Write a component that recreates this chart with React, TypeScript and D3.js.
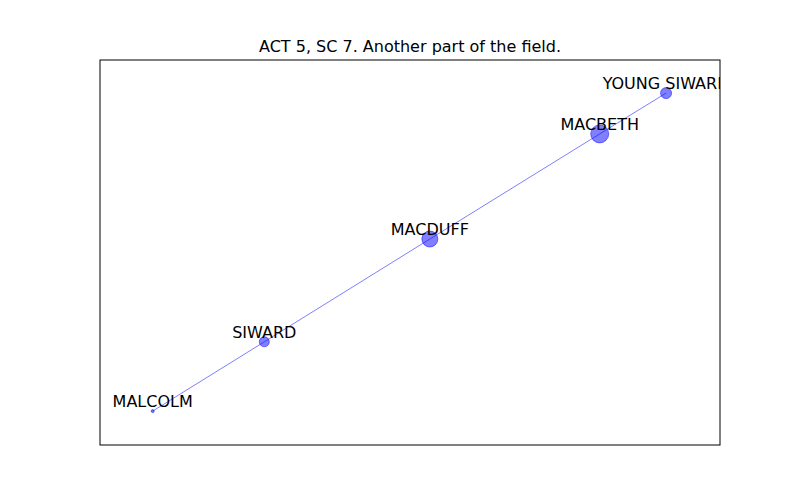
import React from "react";
import * as d3 from "d3";

const names = ["MALCOLM", "SIWARD", "MACDUFF", "MACBETH", "YOUNG SIWARD"];
const xs = [0.085, 0.265, 0.532, 0.806, 0.913];
const ys = [0.088, 0.268, 0.535, 0.808, 0.914];
const radii = [1.5, 5, 8, 9, 5.5];
const edges: [number, number][] = [[0, 1], [1, 2], [2, 3], [3, 4]];

export default function App() {
  const W = 800, H = 500;
  const L = 100, R = 720, T = 60, B = 445;
  const x = d3.scaleLinear().domain([0, 1]).range([L, R]);
  const y = d3.scaleLinear().domain([0, 1]).range([B, T]);
  return (
    <svg width={W} height={H} style={{ position: "absolute", left: 0, top: 0 }} fontFamily="DejaVu Sans">
      <defs>
        <clipPath id="ax"><rect x={L} y={T} width={R - L} height={B - T} /></clipPath>
      </defs>
      <rect width={W} height={H} fill="white" />
      <text x={(L + R) / 2} y={52} textAnchor="middle" fontSize={16}>ACT 5, SC 7. Another part of the field.</text>
      <g clipPath="url(#ax)">
        {edges.map(([a, b], i) => (
          <line key={i} x1={x(xs[a])} y1={y(ys[a])} x2={x(xs[b])} y2={y(ys[b])} stroke="blue" strokeOpacity={0.5} strokeWidth={1} />
        ))}
        {names.map((n, i) => (
          <circle key={n} cx={x(xs[i])} cy={y(ys[i])} r={radii[i]} fill="blue" fillOpacity={0.5} stroke="blue" strokeOpacity={0.5} />
        ))}
        {names.map((n, i) => (
          <text key={n + "t"} x={x(xs[i])} y={y(ys[i]) - 4} textAnchor="middle" fontSize={16}>{n}</text>
        ))}
      </g>
      <rect x={L} y={T} width={R - L} height={B - T} fill="none" stroke="black" strokeWidth={1} />
    </svg>
  );
}
